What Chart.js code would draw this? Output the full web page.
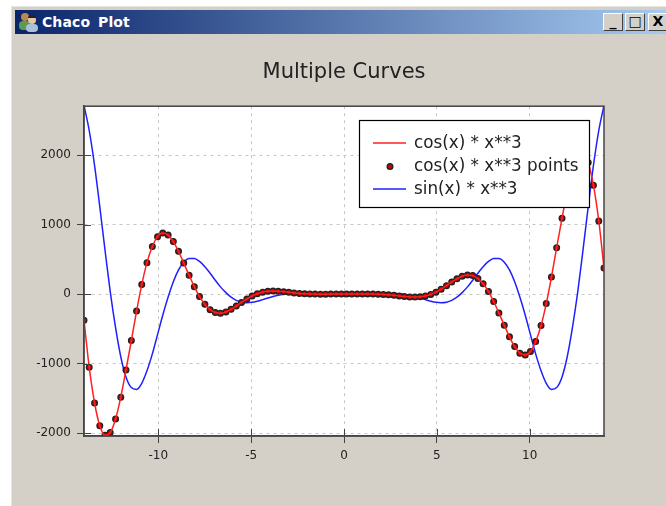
<!DOCTYPE html>
<html>
<head>
<meta charset="utf-8">
<title>Chaco Plot</title>
<script src="https://cdn.jsdelivr.net/npm/chart.js@4"></script>
<style>
  html, body { margin: 0; padding: 0; background: #fff; }
  #page { position: relative; width: 666px; height: 506px; overflow: hidden; }
  #win { position: absolute; left: 11px; top: 6px; width: 660px; height: 505px; background: #d4d0c8; border-left: 1px solid #e8e6e0; border-top: 1px solid #e8e6e0; }
  #bar { position: absolute; left: 15px; top: 10px; width: 651px; height: 24px; background: linear-gradient(to right, #0a246a, #a6caf0); }
  #bar span { position: absolute; left: 27px; top: 4px; color: #fff; font: bold 14px "DejaVu Sans", sans-serif; word-spacing: 3px; letter-spacing: 0.1px; }
  #bar svg { position: absolute; left: 3px; top: 2px; }
  .btn { position: absolute; top: 13px; width: 20px; height: 18px; background: #d4d0c8; box-sizing: border-box; border: 1px solid; border-color: #fff #404040 #404040 #fff; color: #000; text-align: center; font: bold 14px/15px "DejaVu Sans", sans-serif; }
  canvas { position: absolute; left: 0; top: 0; }
</style>
</head>
<body>
<div id="page">
  <div id="win"></div>
  <div id="bar">
    <svg width="22" height="20" viewBox="0 0 22 20">
      <circle cx="7" cy="5" r="4" fill="#b98a4a"/>
      <rect x="1" y="9" width="11" height="9" rx="4" fill="#5d9a52"/>
      <circle cx="14" cy="8" r="4" fill="#e6c8a8"/>
      <path d="M10 6 a4 3 0 0 1 8 0z" fill="#222"/>
      <rect x="8" y="12" width="12" height="8" rx="4" fill="#a9c2d8"/>
    </svg>
    <span>Chaco Plot</span>
  </div>
  <div class="btn" style="left:603px">_</div>
  <div class="btn" style="left:625px">□</div>
  <div class="btn" style="left:648px">X</div>
  <canvas id="myChart" width="666" height="506"></canvas>
</div>
<script>
const xValues = [
  -14.00, -13.72, -13.43, -13.15, -12.87, -12.59, -12.30, -12.02, -11.74, -11.45,
  -11.17, -10.89, -10.61, -10.32, -10.04, -9.76, -9.47, -9.19, -8.91, -8.63,
  -8.34, -8.06, -7.78, -7.49, -7.21, -6.93, -6.65, -6.36, -6.08, -5.80,
  -5.52, -5.23, -4.95, -4.67, -4.38, -4.10, -3.82, -3.54, -3.25, -2.97,
  -2.69, -2.40, -2.12, -1.84, -1.56, -1.27, -0.99, -0.71, -0.42, -0.14,
  0.14, 0.42, 0.71, 0.99, 1.27, 1.56, 1.84, 2.12, 2.40, 2.69,
  2.97, 3.25, 3.54, 3.82, 4.10, 4.38, 4.67, 4.95, 5.23, 5.52,
  5.80, 6.08, 6.36, 6.65, 6.93, 7.21, 7.49, 7.78, 8.06, 8.34,
  8.63, 8.91, 9.19, 9.47, 9.76, 10.04, 10.32, 10.61, 10.89, 11.17,
  11.45, 11.74, 12.02, 12.30, 12.59, 12.87, 13.15, 13.43, 13.72, 14.00
];
const cosValues = [
  -375, -1052, -1568, -1896, -2034, -1994, -1798, -1484, -1093, -668,
  -245, 137, 453, 684, 827, 878, 850, 756, 615, 448,
  272, 107, -36, -148, -224, -266, -275, -257, -220, -173,
  -121, -71, -28, 5, 27, 40, 43, 41, 34, 26,
  17, 10, 5, 2, 0, -1, -1, 0, 0, 0,
  0, 0, 0, 1, 1, 0, -2, -5, -10, -17,
  -26, -34, -41, -43, -40, -27, -5, 28, 71, 121,
  173, 220, 257, 275, 266, 224, 148, 36, -107, -272,
  -448, -615, -756, -850, -878, -827, -684, -453, -137, 245,
  668, 1093, 1484, 1798, 1994, 2034, 1896, 1568, 1052, 375
];
const sinValues = [
  2718, 2357, 1850, 1258, 636, 40, -484, -902, -1192, -1346,
  -1372, -1284, -1104, -861, -583, -304, -43, 179, 349, 460,
  513, 513, 470, 394, 301, 200, 104, 21, -45, -91,
  -117, -124, -118, -102, -80, -57, -35, -17, -4, 4,
  9, 9, 8, 6, 4, 2, 1, 0, 0, 0,
  0, 0, 0, 1, 2, 4, 6, 8, 9, 9,
  4, -4, -17, -35, -57, -80, -102, -118, -124, -117,
  -91, -45, 21, 104, 200, 301, 394, 470, 513, 513,
  460, 349, 179, -43, -304, -583, -861, -1104, -1284, -1372,
  -1346, -1192, -902, -484, 40, 636, 1258, 1850, 2357, 2718
];
const xTicks = [-10, -5, 0, 5, 10];
const yTicks = [-2000, -1000, 0, 1000, 2000];
const chartTitle = 'Multiple Curves';
const seriesNames = ['cos(x) * x**3', 'cos(x) * x**3 points', 'sin(x) * x**3'];

const textColor = '#222';
const axisColor = '#444';
const fontName = '"DejaVu Sans", sans-serif';

function toPoints(ys) {
  return xValues.map((x, i) => ({ x: x, y: ys[i] }));
}

function fixedTicks(values) {
  return function (scale) {
    scale.ticks = values.map(v => ({ value: v }));
  };
}

// white plot background, has to go down before the grid
const plotBackground = {
  id: 'plotBackground',
  beforeDraw(chart) {
    const { ctx, chartArea: a } = chart;
    ctx.save();
    ctx.fillStyle = '#fff';
    ctx.fillRect(a.left, a.top, a.right - a.left, a.bottom - a.top);
    ctx.restore();
  }
};

// the frame on all four sides, and the part of each tick inside the plot
const framePlugin = {
  id: 'frame',
  afterDatasetsDraw(chart) {
    const { ctx, chartArea: a, scales } = chart;
    ctx.save();
    ctx.strokeStyle = axisColor;
    ctx.lineWidth = 1.5;
    ctx.strokeRect(a.left, a.top, a.right - a.left, a.bottom - a.top);
    ctx.lineWidth = 1;
    ctx.beginPath();
    scales.x.ticks.forEach(t => {
      const px = Math.round(scales.x.getPixelForValue(t.value)) + 0.5;
      ctx.moveTo(px, a.bottom);
      ctx.lineTo(px, a.bottom - 7);
    });
    scales.y.ticks.forEach(t => {
      const py = Math.round(scales.y.getPixelForValue(t.value)) + 0.5;
      ctx.moveTo(a.left, py);
      ctx.lineTo(a.left + 7, py);
    });
    ctx.stroke();
    ctx.restore();
  }
};

// the inset legend box, chaco puts it inside the plot
const insetLegend = {
  id: 'insetLegend',
  afterDraw(chart) {
    const ctx = chart.ctx;
    const box = { x: 359.5, y: 120.5, w: 230, h: 87 };
    ctx.save();
    ctx.fillStyle = '#fff';
    ctx.strokeStyle = '#000';
    ctx.lineWidth = 1.2;
    ctx.fillRect(box.x, box.y, box.w, box.h);
    ctx.strokeRect(box.x, box.y, box.w, box.h);
    ctx.font = '16.8px ' + fontName;
    ctx.textBaseline = 'middle';
    chart.data.datasets.forEach((ds, i) => {
      const y = 143.5 + i * 23;
      ctx.fillStyle = textColor;
      ctx.fillText(ds.label, 414, y);
      if (ds.showLine === false) {
        ctx.beginPath();
        ctx.arc(390, y, 2.8, 0, Math.PI * 2);
        ctx.fillStyle = ds.pointBackgroundColor;
        ctx.fill();
        ctx.strokeStyle = ds.pointBorderColor;
        ctx.lineWidth = 1.4;
        ctx.stroke();
      } else {
        ctx.beginPath();
        ctx.moveTo(373, y - 0.5);
        ctx.lineTo(406, y - 0.5);
        ctx.strokeStyle = ds.borderColor;
        ctx.lineWidth = 1.6;
        ctx.stroke();
      }
    });
    ctx.restore();
  }
};

const ctx = document.getElementById('myChart').getContext('2d');

new Chart(ctx, {
  type: 'line',
  data: {
    datasets: [
      { label: seriesNames[0], data: toPoints(cosValues), borderColor: '#ff2020', borderWidth: 1.5, pointRadius: 0, cubicInterpolationMode: 'monotone' },
      { label: seriesNames[1], data: toPoints(cosValues), showLine: false, pointRadius: 2.8, pointBackgroundColor: '#d40000', pointBorderColor: '#222', pointBorderWidth: 1.4 },
      { label: seriesNames[2], data: toPoints(sinValues), borderColor: '#2020ff', borderWidth: 1.5, pointRadius: 0, cubicInterpolationMode: 'monotone' }
    ]
  },
  options: {
    responsive: false,
    animation: false,
    layout: { padding: { left: 0, right: 62, top: 0, bottom: 0 } },
    plugins: {
      legend: { display: false },
      tooltip: { enabled: false },
      title: {
        display: true,
        text: chartTitle,
        fullSize: false,
        color: textColor,
        font: { family: fontName, size: 21, weight: 'normal', lineHeight: 1.2 },
        padding: { top: 60, bottom: 21 }
      }
    },
    scales: {
      x: {
        type: 'linear',
        min: -14,
        max: 14,
        afterFit(scale) { scale.height = 70; },
        afterBuildTicks: fixedTicks(xTicks),
        border: { color: axisColor, width: 1.5, dash: [3, 4] },
        grid: { color: '#c6c6c6', lineWidth: 1, tickColor: axisColor, tickLength: 7, tickBorderDash: [] },
        ticks: { maxRotation: 0, color: textColor, padding: 6, font: { family: fontName, size: 12 }, callback: v => String(v) }
      },
      y: {
        min: -2043,
        max: 2705,
        afterFit(scale) { scale.width = 84; },
        afterBuildTicks: fixedTicks(yTicks),
        border: { color: axisColor, width: 1.5, dash: [3, 4] },
        grid: { color: '#c6c6c6', lineWidth: 1, tickColor: axisColor, tickLength: 7, tickBorderDash: [] },
        ticks: { color: textColor, padding: 6, font: { family: fontName, size: 12 }, callback: v => String(v) }
      }
    }
  },
  plugins: [plotBackground, framePlugin, insetLegend]
});
</script>
</body>
</html>
